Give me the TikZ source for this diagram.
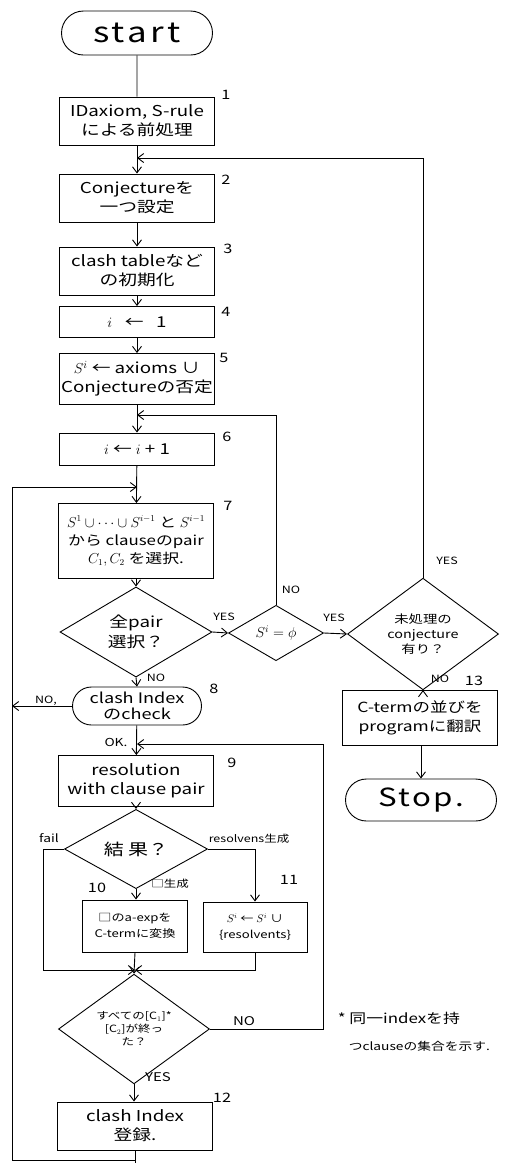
\documentclass[tikz,border=0pt]{standalone}
\usepackage{fontspec}
\setmainfont[FakeStretch=1.25]{Noto Sans CJK JP}
\usetikzlibrary{shapes.geometric,shapes.misc,arrows.meta}
\begin{document}
\begin{tikzpicture}[x=1pt,y=-1pt,
  every path/.style={line width=0.9pt},
  arr/.style={-{Straight Barb[length=6pt,width=9pt,line width=0.9pt]}},
  box/.style={draw, rectangle, minimum width=155pt, align=center, inner sep=2pt,
    font=\fontsize{15}{19}\selectfont},
  term/.style={draw, rounded rectangle, minimum width=155pt, minimum height=44pt, inner sep=2pt},
  dia/.style={draw, diamond, inner sep=0pt, align=center, font=\fontsize{11.5}{15}\selectfont},
  num/.style={font=\fontsize{13}{14}\selectfont},
  lab/.style={font=\fontsize{10}{12}\selectfont}]
\useasboundingbox (0,0) rectangle (505,1163);
% main column
\node[term, font=\fontsize{28}{30}\selectfont\addfontfeature{LetterSpace=12}] (start) at (137,33) {start};
\node[box, minimum height=48pt] (b1) at (137,121) {IDaxiom, S-rule\\による前処理};
\node[box, minimum height=48pt] (b2) at (137,198) {Conjectureを\\一つ設定};
\node[box, minimum height=48pt] (b3) at (137,271) {clash tableなど\\の初期化};
\node[box, minimum height=31pt] (b4) at (137,322) {$i$ \ \ ← \ \ 1};
\node[box, minimum height=51pt] (b5) at (137,379) {$S^i$ ← axioms ∪\\Conjectureの否定};
\node[box, minimum height=32pt] (b6) at (137,449) {$i$ ← $i$ + 1};
\node[box, minimum height=75pt, font=\fontsize{13.5}{18}\selectfont] (b7) at (136,541) {$S^1\cup\cdots\cup S^{i-1}$ と $S^{i-1}$\\から clauseのpair\\$C_1, C_2$ を選択.};
\node[dia, minimum width=152pt, minimum height=75pt, font=\fontsize{15}{20}\selectfont] (d1) at (136,632) {全pair\\選択？};
\node[dia, minimum width=95pt, minimum height=49pt, font=\fontsize{14}{15}\selectfont] (d2) at (276,633) {$S^i=\phi$};
\node[dia, minimum width=151pt, minimum height=75pt] (d3) at (423,634) {未処理の\\conjecture\\有り？};
\node[box, minimum height=55pt, font=\fontsize{14}{19}\selectfont] (b13) at (420,718) {C-termの並びを\\programに翻訳};
\node[term, font=\fontsize{25}{27}\selectfont\addfontfeature{LetterSpace=10}, minimum height=42pt] (stop) at (421,800) {Stop.};
\node[term, minimum width=133pt, minimum height=38pt, align=center, font=\fontsize{14.5}{16}\selectfont] (t8) at (137,706) {clash Index\\のcheck};
\node[box, minimum height=51pt] (b9) at (136,781) {resolution\\with clause pair};
\node[dia, minimum width=143pt, minimum height=47pt, font=\fontsize{16}{17}\selectfont] (d4) at (136,849) {結 果？};
\node[box, minimum width=105pt, minimum height=52pt, font=\fontsize{10.5}{16}\selectfont] (b10) at (135,926) {□のa-expを\\C-termに変換};
\node[box, minimum width=104pt, minimum height=50pt, font=\fontsize{10.5}{16}\selectfont] (b11) at (255,927) {$S^i$ ← $S^i$ ∪\\\{resolvents\}};
\node[dia, minimum width=151pt, minimum height=74pt, font=\fontsize{10}{13}\selectfont] (d5) at (134,1029) {すべての[C$_1$]*\\{}[C$_2$]が終っ\\た？};
\node[box, minimum height=48pt, font=\fontsize{15}{19}\selectfont] (b12) at (135,1126) {clash Index\\登録.};
% junction coordinates
\coordinate (j1) at (137,158);
\coordinate (j2) at (137,415);
\coordinate (j3) at (137,487);
\coordinate (j4) at (137,744);
\coordinate (j5) at (135,970);
\coordinate (lf) at (12,706);
\coordinate (bot) at (135,1163);
\coordinate (bl) at (12,1160);
% connectors
\draw (start) -- (b1);
\draw[arr] (b1) -- (b2);
\draw[arr] (d3.north) -- (d3.north |- j1) -- (j1);
\draw[arr] (b2) -- (b3);
\draw[arr] (b3) -- (b4);
\draw[arr] (b4) -- (b5);
\draw[arr] (b5) -- (b6);
\draw[arr] (d2.north) -- (d2.north |- j2) -- (j2);
\draw[arr] (b6) -- (b7);
\draw[arr] (b7) -- (d1);
\draw[arr] (d1.east) -- (d2.west);
\draw[arr] (d2.east) -- (d3.west);
\draw[arr] (d3.south) -- (b13.north -| d3.south);
\draw[arr] (b13.south -| stop.north) -- (stop.north);
\draw[arr] (d1.south) -- (t8.north);
\draw[arr] (t8.west) -- (lf);
\draw[arr] (t8) -- (b9);
\draw[arr] (d5.east) -- (d5.east -| 323,0) -- (323,744) -- (j4);
\draw[arr] (b9) -- (d4);
\draw[arr] (d4.south) -- (b10.north -| d4.south);
\draw[arr] (d4.east) -- (d4.east -| b11.north) -- (b11.north);
\draw[arr] (d4.west) -- (d4.west -| 43,0) -- (43,970) -- (j5);
\draw[arr] (b11.south) -- (b11.south |- j5) -- (j5);
\draw[arr] (b10.south -| j5) -- (d5.north);
\draw[arr] (d5.south) -- (b12.north -| d5.south);
\draw (b12.south) -- (bot);
\draw[arr] (bl -| bot) -- (bl) -- (12,487) -- (j3);
% step numbers
\node[num] at (226,95) {1};
\node[num] at (226,180) {2};
\node[num] at (228,249) {3};
\node[num] at (226,312) {4};
\node[num] at (224,358) {5};
\node[num] at (227,437) {6};
\node[num] at (228,506) {7};
\node[num] at (214,689) {8};
\node[num] at (232,763) {9};
\node[num] at (97,888) {10};
\node[num] at (289,880) {11};
\node[num] at (222,1098) {12};
\node[num] at (474,681) {13};
% branch labels
\node[lab] at (224,617) {YES};
\node[lab] at (291,590) {NO};
\node[lab] at (334,618) {YES};
\node[lab] at (447,561) {YES};
\node[lab] at (440,679) {NO};
\node[lab] at (156,678) {NO};
\node[lab] at (46,701) {NO,};
\node[lab, font=\fontsize{11}{12}\selectfont] at (116,742) {OK.};
\node[lab, font=\fontsize{11}{12}\selectfont] at (49,838) {fail};
\node[lab] at (249,839) {resolvens生成};
\node[lab] at (170,884) {□生成};
\node[lab, font=\fontsize{12}{12}\selectfont] at (244,1021) {NO};
\node[lab, font=\fontsize{12}{12}\selectfont] at (158,1077) {YES};
% footnote
\node[anchor=west, font=\fontsize{13.5}{15}\selectfont] (fn1) at (334,1018) {* 同一indexを持};
\node[anchor=west, font=\fontsize{11}{13}\selectfont] (fn2) at (345,1046) {つclauseの集合を示す.};
\end{tikzpicture}
\end{document}
